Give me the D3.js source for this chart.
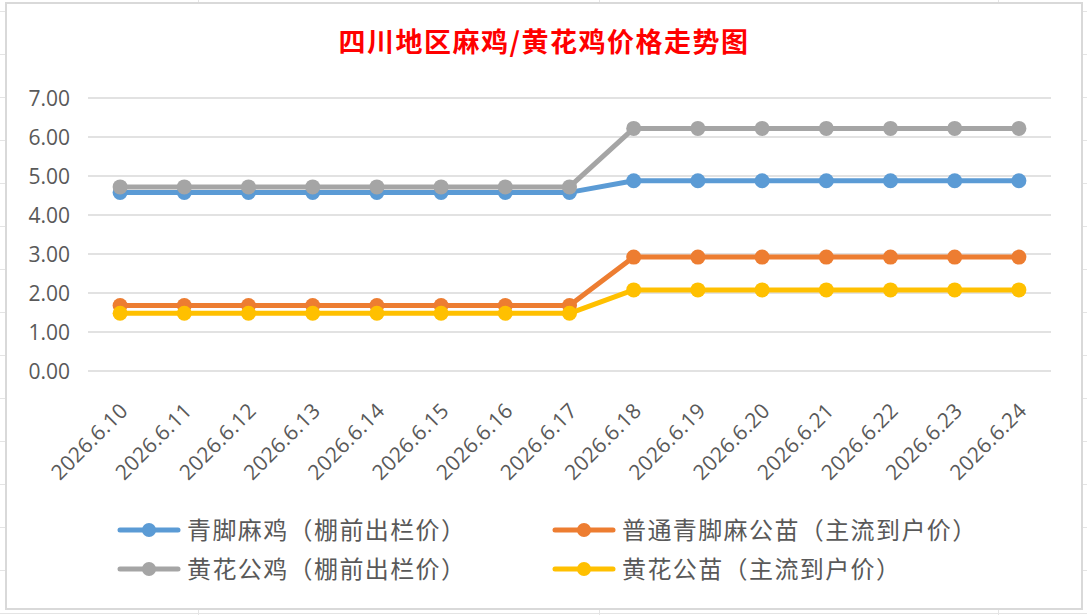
<!DOCTYPE html>
<html>
<head>
<meta charset="utf-8">
<script src="https://cdn.jsdelivr.net/npm/d3@7/dist/d3.min.js"></script>
<style>
  html, body {
    margin: 0;
    padding: 0;
    background: #ffffff;
  }
  #chart {
    width: 1087px;
    height: 615px;
  }
  .axis-label {
    font-family: "Open Sans", "Noto Sans", sans-serif;
    fill: #595959;
  }
  .legend-label {
    font-family: "Noto Sans CJK SC", sans-serif;
    fill: #595959;
    font-size: 24px;
    letter-spacing: 1.4px;
  }
</style>
</head>
<body>
<div id="chart"></div>
<script>
const title = "四川地区麻鸡/黄花鸡价格走势图";

const dates = [
  "2026.6.10", "2026.6.11", "2026.6.12", "2026.6.13", "2026.6.14",
  "2026.6.15", "2026.6.16", "2026.6.17", "2026.6.18", "2026.6.19",
  "2026.6.20", "2026.6.21", "2026.6.22", "2026.6.23", "2026.6.24"
];

const seriesNames = [
  "青脚麻鸡（棚前出栏价）",
  "普通青脚麻公苗（主流到户价）",
  "黄花公鸡（棚前出栏价）",
  "黄花公苗（主流到户价）"
];

const qingjiaoMaji = [4.58, 4.58, 4.58, 4.58, 4.58, 4.58, 4.58, 4.58, 4.88, 4.88, 4.88, 4.88, 4.88, 4.88, 4.88];
const qingjiaoGongmiao = [1.68, 1.68, 1.68, 1.68, 1.68, 1.68, 1.68, 1.68, 2.92, 2.92, 2.92, 2.92, 2.92, 2.92, 2.92];
const huanghuaGongji = [4.72, 4.72, 4.72, 4.72, 4.72, 4.72, 4.72, 4.72, 6.22, 6.22, 6.22, 6.22, 6.22, 6.22, 6.22];
const huanghuaGongmiao = [1.48, 1.48, 1.48, 1.48, 1.48, 1.48, 1.48, 1.48, 2.08, 2.08, 2.08, 2.08, 2.08, 2.08, 2.08];

const yTicks = [0, 1, 2, 3, 4, 5, 6, 7];

const colors = ["#5b9bd5", "#ed7d31", "#a5a5a5", "#ffc000"];

const series = [qingjiaoMaji, qingjiaoGongmiao, huanghuaGongji, huanghuaGongmiao].map((values, i) => ({
  name: seriesNames[i],
  color: colors[i],
  values: values
}));

const width = 1087;
const height = 615;

const svg = d3.select("#chart")
  .append("svg")
  .attr("width", width)
  .attr("height", height);

// spreadsheet cells behind the chart
const cells = svg.append("g").attr("stroke", "#e4e4e4").attr("stroke-width", 1);
d3.range(11.5, height, 43).forEach(y => {
  cells.append("line").attr("x1", 0).attr("x2", width).attr("y1", y).attr("y2", y);
});
[198.5, 599.5, 998.5].forEach(x => {
  cells.append("line").attr("x1", x).attr("x2", x).attr("y1", 0).attr("y2", height);
});

svg.append("rect")
  .attr("x", 6)
  .attr("y", 3)
  .attr("width", 1076)
  .attr("height", 606)
  .attr("fill", "#ffffff")
  .attr("stroke", "#d9d9d9")
  .attr("stroke-width", 2);

svg.append("text")
  .attr("x", 544)
  .attr("y", 52)
  .attr("text-anchor", "middle")
  .attr("font-family", "'Noto Sans CJK SC', sans-serif")
  .attr("font-size", 27)
  .attr("font-weight", 700)
  .attr("fill", "#ff0000")
  .attr("letter-spacing", 1.5)
  .text(title);

const x = d3.scaleBand()
  .domain(dates)
  .range([88, 1051]);

const y = d3.scaleLinear()
  .domain([0, 7])
  .range([371, 98]);

// gridlines
svg.append("g")
  .selectAll("line")
  .data(yTicks)
  .enter()
  .append("line")
  .attr("x1", x.range()[0])
  .attr("x2", x.range()[1])
  .attr("y1", d => y(d))
  .attr("y2", d => y(d))
  .attr("stroke", "#d9d9d9")
  .attr("stroke-width", 1.4);

// y axis labels
svg.append("g")
  .selectAll("text")
  .data(yTicks)
  .enter()
  .append("text")
  .attr("class", "axis-label")
  .attr("x", 70)
  .attr("y", d => y(d))
  .attr("dy", "0.36em")
  .attr("text-anchor", "end")
  .attr("font-size", 21)
  .text(d => d3.format(".2f")(d));

// x axis labels, rotated
svg.append("g")
  .selectAll("text")
  .data(dates)
  .enter()
  .append("text")
  .attr("class", "axis-label")
  .attr("font-size", 21)
  .attr("letter-spacing", 0.3)
  .attr("text-anchor", "end")
  .attr("transform", d => "translate(" + (x(d) + x.bandwidth() / 2 + 9) + ",412) rotate(-45)")
  .text(d => d);

const line = d3.line()
  .x((d, i) => x(dates[i]) + x.bandwidth() / 2)
  .y(d => y(d));

const seriesG = svg.append("g")
  .selectAll("g")
  .data(series)
  .enter()
  .append("g");

seriesG.append("path")
  .attr("d", d => line(d.values))
  .attr("fill", "none")
  .attr("stroke", d => d.color)
  .attr("stroke-width", 5)
  .attr("stroke-linejoin", "round")
  .attr("stroke-linecap", "round");

seriesG.selectAll("circle")
  .data(d => d.values.map((v, i) => ({ v: v, i: i, color: d.color })))
  .enter()
  .append("circle")
  .attr("cx", d => x(dates[d.i]) + x.bandwidth() / 2)
  .attr("cy", d => y(d.v))
  .attr("r", 7.5)
  .attr("fill", d => d.color);

// legend
const legendPos = [
  { x: 118, y: 530 },
  { x: 553, y: 530 },
  { x: 118, y: 569 },
  { x: 553, y: 569 }
];

const legend = svg.append("g")
  .selectAll("g")
  .data(series)
  .enter()
  .append("g")
  .attr("transform", (d, i) => "translate(" + legendPos[i].x + "," + legendPos[i].y + ")");

legend.append("line")
  .attr("x1", 2)
  .attr("x2", 60)
  .attr("y1", 0)
  .attr("y2", 0)
  .attr("stroke", d => d.color)
  .attr("stroke-width", 5)
  .attr("stroke-linecap", "round");

legend.append("circle")
  .attr("cx", 31)
  .attr("cy", 0)
  .attr("r", 7)
  .attr("fill", d => d.color);

legend.append("text")
  .attr("class", "legend-label")
  .attr("x", 69)
  .attr("y", 0)
  .attr("dy", "0.36em")
  .text(d => d.name);
</script>
</body>
</html>
